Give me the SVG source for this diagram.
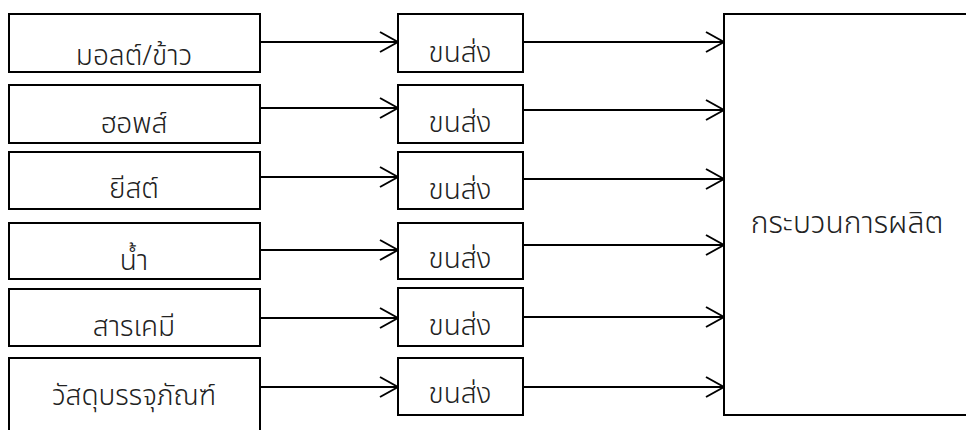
<svg xmlns="http://www.w3.org/2000/svg" width="966" height="430" viewBox="0 0 966 430">
<style>
.box{fill:#fff;stroke:#000;stroke-width:2}
.lbl{font-family:"Noto Sans Thai","Noto Sans","Leelawadee UI",Tahoma,"DejaVu Sans",sans-serif;font-size:28px;font-weight:300;fill:#222;text-anchor:middle}
.big{font-size:30px}
.ln{fill:none;stroke:#000;stroke-width:2}
.ah{fill:none;stroke:#000;stroke-width:2}
</style>
<defs>
<marker id="arr" viewBox="0 0 20 22" refX="19" refY="11" markerWidth="20" markerHeight="22" markerUnits="userSpaceOnUse" orient="auto">
<path class="ah" d="M1,1 L19,11 L1,21"/>
</marker>
</defs>
<rect width="966" height="430" fill="#fff"/>
<g id="connectors">
<line class="ln" x1="260" y1="42" x2="398" y2="42" marker-end="url(#arr)"/>
<line class="ln" x1="260" y1="108" x2="398" y2="108" marker-end="url(#arr)"/>
<line class="ln" x1="260" y1="177" x2="398" y2="177" marker-end="url(#arr)"/>
<line class="ln" x1="260" y1="250" x2="398" y2="250" marker-end="url(#arr)"/>
<line class="ln" x1="260" y1="318" x2="398" y2="318" marker-end="url(#arr)"/>
<line class="ln" x1="260" y1="387" x2="398" y2="387" marker-end="url(#arr)"/>
<line class="ln" x1="523" y1="42" x2="724" y2="42" marker-end="url(#arr)"/>
<line class="ln" x1="523" y1="110" x2="724" y2="110" marker-end="url(#arr)"/>
<line class="ln" x1="523" y1="179" x2="724" y2="179" marker-end="url(#arr)"/>
<line class="ln" x1="523" y1="245" x2="724" y2="245" marker-end="url(#arr)"/>
<line class="ln" x1="523" y1="317" x2="724" y2="317" marker-end="url(#arr)"/>
<line class="ln" x1="523" y1="387" x2="724" y2="387" marker-end="url(#arr)"/>
</g>
<g id="in-malt"><rect class="box" x="9" y="14" width="251" height="58"/><text class="lbl" x="134" y="65">มอลต์/ข้าว</text></g>
<g id="in-hops"><rect class="box" x="9" y="85" width="251" height="58"/><text class="lbl" x="134" y="133">ฮอพส์</text></g>
<g id="in-yeast"><rect class="box" x="9" y="152" width="251" height="57"/><text class="lbl" x="134" y="198">ยีสต์</text></g>
<g id="in-water"><rect class="box" x="9" y="223" width="251" height="56"/><text class="lbl" x="134" y="270">น้ำ</text></g>
<g id="in-chem"><rect class="box" x="9" y="289" width="251" height="57"/><text class="lbl" x="134" y="336">สารเคมี</text></g>
<g id="in-pack"><rect class="box" x="9" y="358" width="251" height="80"/><text class="lbl" x="134" y="405">วัสดุบรรจุภัณฑ์</text></g>
<g id="t1"><rect class="box" x="398" y="14" width="125" height="58"/><text class="lbl" x="460" y="62">ขนส่ง</text></g>
<g id="t2"><rect class="box" x="398" y="85" width="125" height="58"/><text class="lbl" x="460" y="132">ขนส่ง</text></g>
<g id="t3"><rect class="box" x="398" y="152" width="125" height="57"/><text class="lbl" x="460" y="199">ขนส่ง</text></g>
<g id="t4"><rect class="box" x="398" y="223" width="125" height="56"/><text class="lbl" x="460" y="268">ขนส่ง</text></g>
<g id="t5"><rect class="box" x="398" y="288" width="125" height="58"/><text class="lbl" x="460" y="335">ขนส่ง</text></g>
<g id="t6"><rect class="box" x="398" y="358" width="125" height="57"/><text class="lbl" x="460" y="403">ขนส่ง</text></g>
<g id="production"><rect class="box" x="724" y="14" width="260" height="401"/><text class="lbl big" x="847" y="233">กระบวนการผลิต</text></g>
</svg>
